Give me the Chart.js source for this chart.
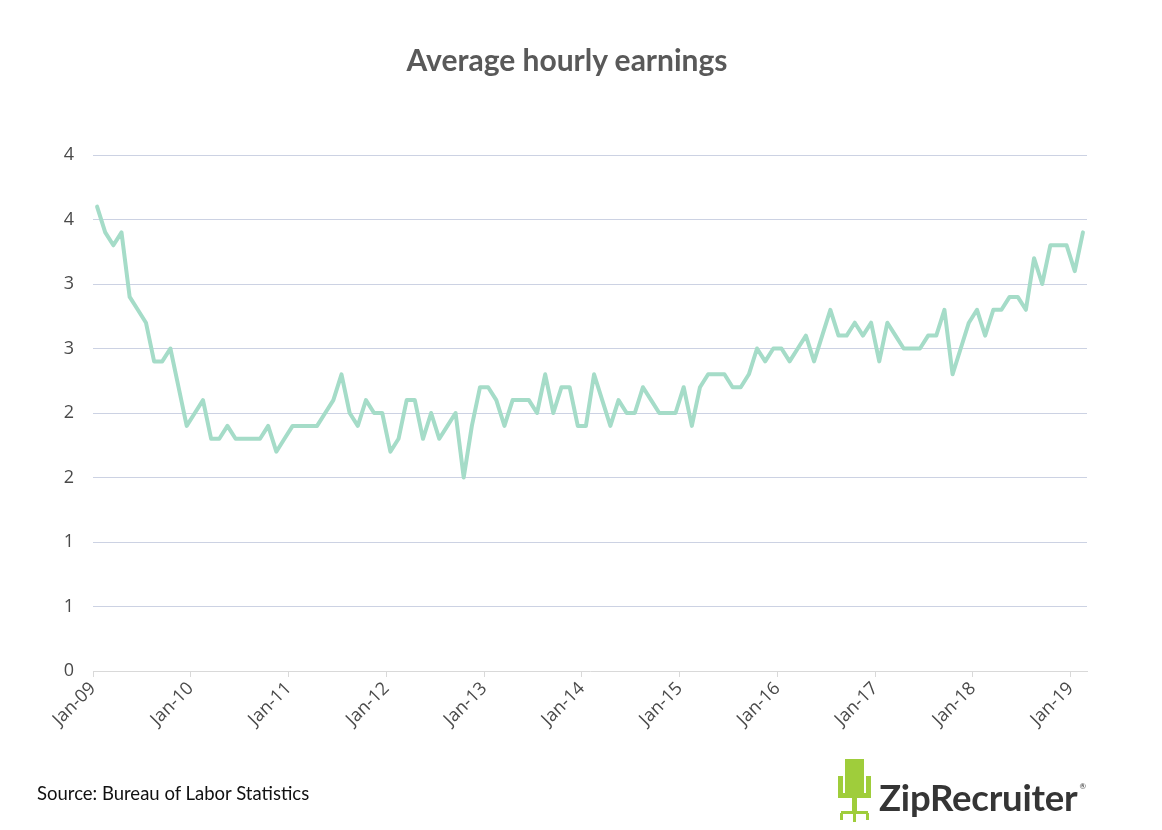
<!DOCTYPE html>
<html>
<head>
<meta charset="utf-8">
<script src="https://cdn.jsdelivr.net/npm/chart.js@4.4.1/dist/chart.umd.min.js"></script>
<style>
  html, body { margin: 0; padding: 0; background: #fff; }
  #wrap { position: relative; width: 1162px; height: 830px; overflow: hidden; }
  #chart { position: absolute; left: 0; top: 0; }
  .title { position: absolute; left: 0; width: 1134px; top: 44px; text-align: center;
           font: 700 30px/30px Lato, sans-serif; color: #595959; }
  .source { position: absolute; left: 37px; top: 784px; font: 400 18.5px/18px Lato, sans-serif; color: #111; }
  .logo { position: absolute; left: 879px; top: 768px; font: 700 36.5px/36px Lato, sans-serif;
          color: #353535; letter-spacing: -0.2px; }
  .logo sup { font-size: 8px; font-weight: 400; vertical-align: 22px; margin-left: 2px; }
  .chair div { position: absolute; background: #9fcd3b; }
</style>
</head>
<body>
<div id="wrap">
  <canvas id="chart" width="1162" height="830"></canvas>
  <div class="title">Average hourly earnings</div>
  <div class="source">Source: Bureau of Labor Statistics</div>
  <div class="chair">
    <div style="left:845px;top:759px;width:19px;height:36px"></div>
    <div style="left:838px;top:776px;width:5px;height:18px"></div>
    <div style="left:866px;top:776px;width:5px;height:18px"></div>
    <div style="left:838px;top:793px;width:33px;height:5px"></div>
    <div style="left:852px;top:798px;width:5px;height:14px"></div>
    <div style="left:841px;top:811px;width:27px;height:3px"></div>
    <div style="left:840px;top:813px;width:3px;height:7px"></div>
    <div style="left:866px;top:813px;width:3px;height:7px"></div>
    <div style="left:853px;top:813px;width:3px;height:9px"></div>
  </div>
  <div class="logo">ZipRecruiter<sup>®</sup></div>
</div>
<script>
// year-over-year growth, monthly Jan-09 .. Feb-19
var values = [
  3.6, 3.4, 3.3, 3.4, 2.9, 2.8, 2.7, 2.4, 2.4, 2.5, 2.2, 1.9,   // 2009
  2.0, 2.1, 1.8, 1.8, 1.9, 1.8, 1.8, 1.8, 1.8, 1.9, 1.7, 1.8,   // 2010
  1.9, 1.9, 1.9, 1.9, 2.0, 2.1, 2.3, 2.0, 1.9, 2.1, 2.0, 2.0,   // 2011
  1.7, 1.8, 2.1, 2.1, 1.8, 2.0, 1.8, 1.9, 2.0, 1.5, 1.9, 2.2,   // 2012
  2.2, 2.1, 1.9, 2.1, 2.1, 2.1, 2.0, 2.3, 2.0, 2.2, 2.2, 1.9,   // 2013
  1.9, 2.3, 2.1, 1.9, 2.1, 2.0, 2.0, 2.2, 2.1, 2.0, 2.0, 2.0,   // 2014
  2.2, 1.9, 2.2, 2.3, 2.3, 2.3, 2.2, 2.2, 2.3, 2.5, 2.4, 2.5,   // 2015
  2.5, 2.4, 2.5, 2.6, 2.4, 2.6, 2.8, 2.6, 2.6, 2.7, 2.6, 2.7,   // 2016
  2.4, 2.7, 2.6, 2.5, 2.5, 2.5, 2.6, 2.6, 2.8, 2.3, 2.5, 2.7,   // 2017
  2.8, 2.6, 2.8, 2.8, 2.9, 2.9, 2.8, 3.2, 3.0, 3.3, 3.3, 3.3,   // 2018
  3.1, 3.4                                                      // 2019
];
var xLabels = ['Jan-09', 'Jan-10', 'Jan-11', 'Jan-12', 'Jan-13', 'Jan-14',
               'Jan-15', 'Jan-16', 'Jan-17', 'Jan-18', 'Jan-19'];

var points = values.map(function (v, i) { return { x: i + 0.5, y: v }; });

new Chart(document.getElementById('chart').getContext('2d'), {
  type: 'line',
  data: {
    datasets: [{
      data: points,
      borderColor: '#a5dcc8',
      borderWidth: 4,
      borderJoinStyle: 'round',
      borderCapStyle: 'round',
      pointRadius: 0,
      tension: 0,
      fill: false
    }]
  },
  options: {
    responsive: false,
    animation: false,
    layout: { padding: { top: 155, right: 75, left: 0, bottom: 0 } },
    plugins: { legend: { display: false }, tooltip: { enabled: false } },
    scales: {
      x: {
        type: 'linear',
        min: 0,
        max: values.length,
        afterFit: function (s) { s.height = 159; },
        border: { color: '#d9d9d9', width: 1 },
        grid: { drawOnChartArea: false, drawTicks: true, tickLength: 6, color: '#d9d9d9' },
        ticks: {
          stepSize: 12,
          includeBounds: false,
          autoSkip: false,
          minRotation: 45,
          maxRotation: 45,
          padding: 1,
          color: '#4a4a4a',
          font: { family: "'Open Sans', sans-serif", size: 18 },
          callback: function (v) { return xLabels[v / 12]; }
        }
      },
      y: {
        min: 0,
        max: 4,
        afterFit: function (s) { s.width = 93; },
        border: { display: false },
        grid: {
          drawTicks: false,
          color: function (c) { return c.tick && c.tick.value === 0 ? 'rgba(0,0,0,0)' : '#ccd2e3'; }
        },
        ticks: {
          stepSize: 0.5,
          padding: 19,
          color: '#4a4a4a',
          font: { family: "'Open Sans', sans-serif", size: 18 },
          callback: function (v) { return Math.round(v); }
        }
      }
    }
  }
});
</script>
</body>
</html>
